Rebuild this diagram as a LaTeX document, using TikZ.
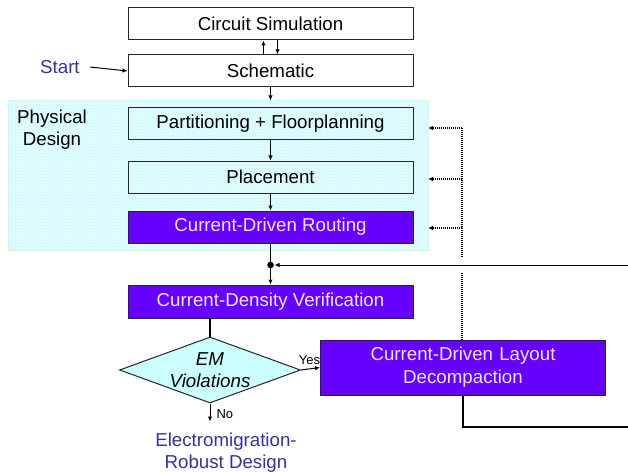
\documentclass[tikz,border=0pt]{standalone}
\usepackage{fontspec}
\setmainfont{Liberation Sans}
\usetikzlibrary{shapes.geometric,arrows.meta}
\definecolor{purp}{HTML}{6600FF}
\definecolor{lav}{HTML}{EEE6FF}
\definecolor{bgcyan}{HTML}{DDFFFF}
\definecolor{bgedge}{HTML}{C8FFD8}
\definecolor{dia}{HTML}{CCFFFF}
\definecolor{dblue}{HTML}{333399}
\tikzset{
  box/.style={draw=black!85, line width=1pt, minimum width=285pt, minimum height=32pt, inner sep=0pt, font=\fontsize{18.7}{21}\selectfont},
  pbox/.style={box, fill=purp, text=lav},
  arr/.style={line width=1pt, -{Latex[length=5pt,width=4.5pt]}},
  ln/.style={line width=1.1pt},
  dots/.style={line width=1.3pt, dash pattern=on 1pt off 1pt},
  darr/.style={dots, -{Latex[length=5pt,width=4.5pt]}},
  lbl/.style={font=\fontsize{18.7}{22}\selectfont, align=center, inner sep=0pt},
  small/.style={font=\fontsize{13}{15}\selectfont, inner sep=0pt},
}
\begin{document}
\begin{tikzpicture}[x=1pt,y=-1pt]
\useasboundingbox (0,0) rectangle (628,473);
% background region
\fill[bgcyan] (8,100) rectangle (428,250);
\draw[bgedge, line width=0.8pt] (8,100) rectangle (428,250);
\begin{scope}
\clip (8,100) rectangle (428,250);
\draw[white!85!cyan, line width=0.3pt, step=3pt, opacity=0.5] (8,100) grid (428,250);
\end{scope}

\node[box] (sim) at (270.5,24) {Circuit Simulation};
\node[box] (sch) at (270.5,71) {Schematic};
\node[box] (part) at (270.5,124) {Partitioning + Floorplanning};
\node[box] (plc) at (270.5,177) {Placement};
\node[pbox] (rout) at (270.5,227) {Current-Driven Routing};
\node[pbox, minimum height=33pt] (ver) at (270.5,301.5) {Current-Density Verification};
\node[draw=black!85, line width=1pt, fill=dia, diamond, minimum width=181pt, minimum height=66pt, inner sep=0pt] (em) at (210,370) {};
\node[lbl, font=\fontsize{18.7}{22}\selectfont\itshape] at (em) {EM\\Violations};
\node[pbox, minimum height=55pt, text width=285pt, align=center, font=\fontsize{18.7}{23}\selectfont] (dec) at (463,367.5) {Current-Driven Layout\\Decompaction};

\node[lbl, text=dblue, anchor=west] (start) at (40,67) {Start};
\node[lbl, anchor=west] (pd) at (17,130) {Physical\\Design};
\node[lbl, text=dblue] (robust) at (226,453) {Electromigration-\\Robust Design};

% connectors
\draw[arr] ([xshift=-7pt]sch.north) -- ([xshift=-7pt]sim.south);
\draw[arr] ([xshift=7pt]sim.south) -- ([xshift=7pt]sch.north);
\draw[arr] ([xshift=10pt]start.east) -- (sch.west);
\draw[arr] (sch.south) -- ([yshift=-13pt]sch.south);
\draw[arr] (part.south) -- (plc.north);
\draw[arr] (plc.south) -- (rout.north);
\coordinate (jn) at (270.5,265);
\draw[ln] (rout.south) -- (jn);
\draw[arr] (jn) -- (ver.north);
\fill (jn) circle (3.3pt);
\coordinate (re1) at (628,265);
\draw[arr] (re1) -- ([xshift=4pt]jn);
\draw[ln] (ver.south -| em.north) -- (em.north);
\draw[arr] (em.east) -- node[small, above=4pt, pos=0.45] {Yes} (dec.west);
\draw[arr] (em.south) -- ++(0,18) node[small, anchor=west, pos=0.6, xshift=6pt] {No};
\coordinate (re2) at (628,427);
\draw[ln] (dec.south) |- (re2);
% dotted feedback
\coordinate (dtop) at (462,128);
\draw[dots] (462,340) -- (462,273);
\draw[dots] (462,257) -- (dtop);
\draw[darr] (dtop) -- (428,128);
\draw[darr] (462,179) -- (428,179);
\draw[darr] (462,228) -- (428,228);
\end{tikzpicture}
\end{document}
